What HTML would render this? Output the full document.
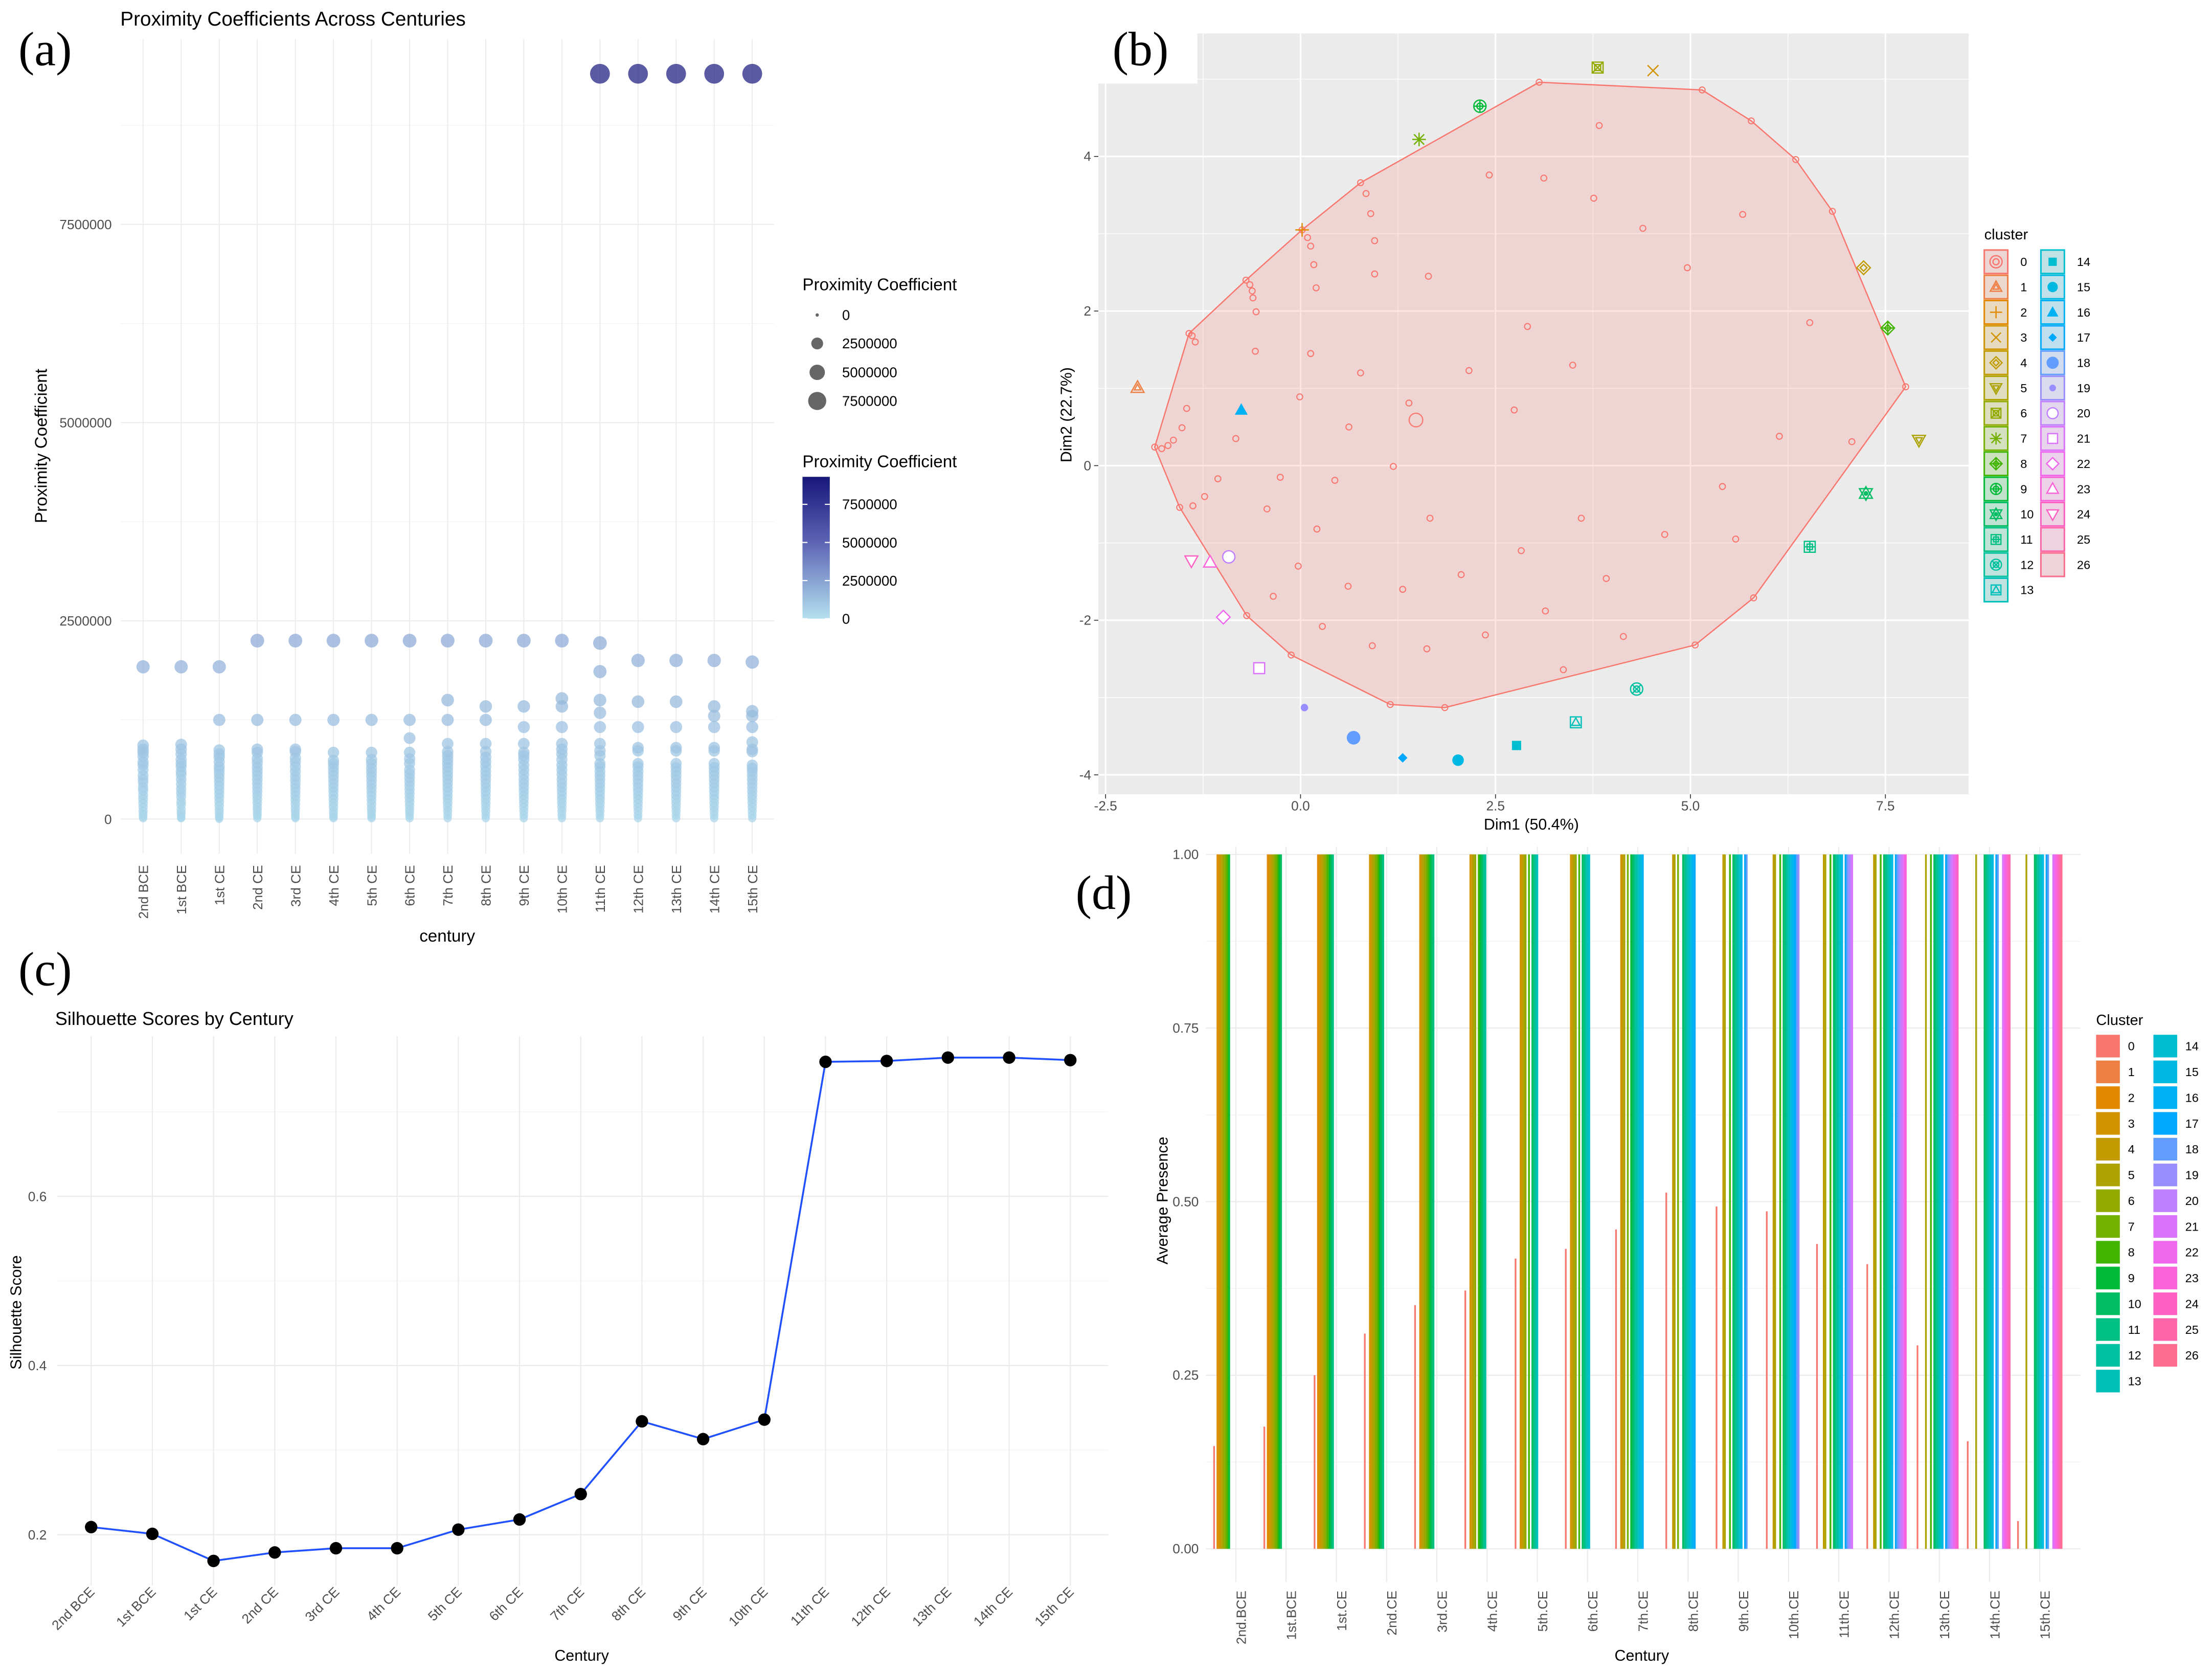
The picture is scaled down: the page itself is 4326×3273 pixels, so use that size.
<!DOCTYPE html>
<html><head><meta charset="utf-8"><title>Cluster analysis figure</title>
<style>
html,body{margin:0;padding:0;background:#fff;}
svg{display:block;font-family:"Liberation Sans",sans-serif;}
.tk{font-size:9.5px;fill:#4d4d4d;}
.lt{font-family:"Liberation Serif",serif;font-size:34px;fill:#000;}
</style></head>
<body>
<svg id="fig" width="4326" height="3273" viewBox="0 0 1562.9 1182.4" preserveAspectRatio="none" xmlns="http://www.w3.org/2000/svg">
<defs>
<linearGradient id="cbar" x1="0" y1="0" x2="0" y2="1">
<stop offset="0" stop-color="#17177a"/><stop offset="0.45" stop-color="#5b62b3"/><stop offset="1" stop-color="#b4e0ef"/>
</linearGradient>
</defs>
<rect x="0" y="0" width="1562.9" height="1182.4" fill="#fff"/>

<g id="pa">
<text class="lt" x="13" y="46">(a)</text>
<text x="85" y="18" font-size="14">Proximity Coefficients Across Centuries</text>
<text transform="translate(33,315) rotate(-90)" text-anchor="middle" font-size="12">Proximity Coefficient</text>
<text x="316" y="665" text-anchor="middle" font-size="12">century</text>
<g id="pa-grid"></g>
<g id="pa-pts"></g>
<g id="pa-ticks"></g>
<text x="567" y="205" font-size="12">Proximity Coefficient</text>
<g id="pa-sleg"></g>
<text x="567" y="330" font-size="12">Proximity Coefficient</text>
<rect x="567" y="336.8" width="19.3" height="100.2" fill="url(#cbar)"/>
<g id="pa-cleg"></g>
</g>

<g id="pb">
<rect x="776" y="23.6" width="615" height="537.4" fill="#ebebeb"/>
<g id="pb-grid"></g>
<g id="pb-hull"></g>
<g id="pb-pts"></g>
<rect x="740" y="0" width="106" height="59" fill="#fff"/>
<text class="lt" x="786" y="46">(b)</text>
<g id="pb-ticks"></g>
<text x="1082" y="586" text-anchor="middle" font-size="11">Dim1 (50.4%)</text>
<text transform="translate(757,293) rotate(-90)" text-anchor="middle" font-size="11">Dim2 (22.7%)</text>
<text x="1402" y="169" font-size="10.5">cluster</text>
<g id="pb-leg"></g>
</g>

<g id="pc">
<text class="lt" x="13" y="696">(c)</text>
<text x="39" y="724" font-size="13">Silhouette Scores by Century</text>
<g id="pc-grid"></g>
<g id="pc-line"></g>
<g id="pc-ticks"></g>
<text transform="translate(15,927) rotate(-90)" text-anchor="middle" font-size="11">Silhouette Score</text>
<text x="411" y="1173" text-anchor="middle" font-size="11">Century</text>
</g>

<g id="pd">
<text class="lt" x="760" y="642">(d)</text>
<g id="pd-grid"></g>
<g id="pd-bars"></g>
<g id="pd-ticks"></g>
<text transform="translate(825,848) rotate(-90)" text-anchor="middle" font-size="11">Average Presence</text>
<text x="1160" y="1173" text-anchor="middle" font-size="11">Century</text>
<text x="1481" y="724" font-size="10.5">Cluster</text>
<g id="pd-leg"></g>
</g>
</svg>

<script>
const aCenturies = ['2nd BCE','1st BCE','1st CE','2nd CE','3rd CE','4th CE','5th CE','6th CE','7th CE','8th CE','9th CE','10th CE','11th CE','12th CE','13th CE','14th CE','15th CE'];
const aValues = [
 [1.92,0.93,0.88,0.84,0.79,0.72,0.68,0.62,0.55,0.5,0.46,0.4,0.36,0.3,0.25,0.2,0.15,0.1,0.06,0.03,0.01],
 [1.92,0.94,0.88,0.82,0.75,0.7,0.66,0.6,0.56,0.5,0.44,0.38,0.33,0.28,0.22,0.18,0.12,0.08,0.05,0.02,0.01],
 [1.92,1.25,0.87,0.82,0.78,0.72,0.66,0.62,0.57,0.52,0.47,0.42,0.37,0.32,0.27,0.22,0.17,0.12,0.08,0.04,0.02,0.0],
 [2.25,1.25,0.88,0.84,0.76,0.71,0.65,0.6,0.55,0.5,0.45,0.4,0.35,0.3,0.25,0.2,0.15,0.11,0.07,0.04,0.01],
 [2.25,1.25,0.88,0.85,0.77,0.72,0.66,0.6,0.54,0.49,0.44,0.39,0.34,0.29,0.24,0.19,0.14,0.1,0.06,0.03,0.01],
 [2.25,1.25,0.84,0.74,0.7,0.65,0.6,0.55,0.5,0.45,0.4,0.35,0.3,0.25,0.2,0.15,0.1,0.06,0.03,0.01],
 [2.25,1.25,0.84,0.75,0.7,0.64,0.59,0.54,0.49,0.44,0.39,0.34,0.29,0.24,0.19,0.14,0.1,0.06,0.03,0.01],
 [2.25,1.25,1.02,0.84,0.76,0.7,0.62,0.57,0.52,0.47,0.42,0.37,0.32,0.27,0.22,0.17,0.12,0.08,0.04,0.01],
 [2.25,1.5,1.25,0.95,0.85,0.8,0.75,0.7,0.65,0.6,0.55,0.5,0.45,0.4,0.35,0.3,0.25,0.2,0.15,0.1,0.05,0.01],
 [2.25,1.42,1.25,0.95,0.85,0.78,0.72,0.66,0.6,0.55,0.5,0.45,0.4,0.35,0.3,0.25,0.2,0.15,0.1,0.05,0.01],
 [2.25,1.42,1.16,0.95,0.84,0.8,0.75,0.68,0.62,0.56,0.5,0.45,0.4,0.35,0.3,0.25,0.2,0.15,0.1,0.05,0.01],
 [2.25,1.52,1.42,1.16,0.95,0.88,0.82,0.75,0.68,0.62,0.56,0.5,0.45,0.4,0.35,0.3,0.25,0.2,0.15,0.1,0.05,0.01],
 [9.4,2.22,1.86,1.5,1.34,1.16,0.95,0.86,0.8,0.7,0.66,0.6,0.55,0.5,0.45,0.4,0.35,0.3,0.25,0.2,0.15,0.1,0.05,0.01],
 [9.4,2.0,1.48,1.16,0.9,0.86,0.7,0.66,0.6,0.55,0.5,0.45,0.4,0.35,0.3,0.25,0.2,0.15,0.1,0.05,0.01],
 [9.4,2.0,1.48,1.16,0.9,0.86,0.7,0.65,0.6,0.55,0.5,0.45,0.4,0.35,0.3,0.25,0.2,0.15,0.1,0.05,0.01],
 [9.4,2.0,1.42,1.3,1.16,0.9,0.86,0.7,0.65,0.6,0.55,0.5,0.45,0.4,0.35,0.3,0.25,0.2,0.15,0.1,0.05,0.01],
 [9.4,1.98,1.36,1.3,1.16,0.97,0.88,0.85,0.68,0.64,0.6,0.55,0.5,0.45,0.4,0.35,0.3,0.25,0.2,0.15,0.1,0.05,0.01]
];
const aYTicks = [0,2.5,5,7.5];
const aYTickLabels = ['0','2500000','5000000','7500000'];
const aYMinor = [1.25,3.75,6.25,8.75];
const aSizeLegend = [0,2.5,5,7.5];
const aSizeLegendLabels = ['0','2500000','5000000','7500000'];
const aColorLegend = [0,2.5,5,7.5];
const aColorLegendLabels = ['0','2500000','5000000','7500000'];

const bXTicks = [-2.5,0,2.5,5,7.5];
const bXTickLabels = ['-2.5','0.0','2.5','5.0','7.5'];
const bYTicks = [-4,-2,0,2,4];
const bYTickLabels = ['-4','-2','0','2','4'];
const bXMinor = [-1.25,1.25,3.75,6.25];
const bYMinor = [-3,-1,1,3,5];
const cluster0Dim1 = [3.06,5.15,5.78,6.35,6.82,7.76,5.81,5.06,1.85,1.15,-0.12,-0.69,-1.55,-1.87,-1.43,-0.70,0.02,
 3.83,2.42,3.12,3.76,0.77,0.84,0.90,0.95,0.09,0.13,0.17,0.20,0.95,1.64,4.39,5.67,4.96,-0.65,-0.62,-0.61,-0.57,-0.58,0.13,-1.39,-1.35,
 2.91,6.53,2.16,3.49,0.77,-0.01,1.39,2.74,-1.46,-1.52,-1.63,-1.70,-1.78,-0.83,0.62,1.19,-1.06,-0.26,0.44,-1.23,-1.38,-0.43,1.66,3.60,
 0.21,5.41,4.67,5.58,2.83,-0.03,2.06,3.92,0.61,1.31,-0.35,3.14,0.28,2.37,4.14,0.92,1.62,3.37,7.07,6.14];
const cluster0Dim2 = [4.96,4.86,4.46,3.96,3.29,1.02,-1.71,-2.32,-3.13,-3.09,-2.45,-1.94,-0.54,0.24,1.71,2.40,3.05,
 4.40,3.76,3.72,3.46,3.66,3.52,3.26,2.91,2.95,2.84,2.60,2.30,2.48,2.45,3.07,3.25,2.56,2.34,2.26,2.17,1.99,1.48,1.45,1.68,1.60,
 1.80,1.85,1.23,1.30,1.20,0.89,0.81,0.72,0.74,0.49,0.33,0.26,0.22,0.35,0.50,-0.01,-0.17,-0.15,-0.19,-0.40,-0.52,-0.56,-0.68,-0.68,
 -0.82,-0.27,-0.89,-0.95,-1.10,-1.30,-1.41,-1.46,-1.56,-1.60,-1.69,-1.88,-2.08,-2.19,-2.21,-2.33,-2.37,-2.64,0.31,0.38];
const cluster0Centroid = [1.48,0.59];
const centroidClusters = [1,2,3,4,5,6,7,8,9,10,11,12,13,14,15,16,17,18,19,20,21,22,23,24];
const centroidDim1 = [-2.09,0.02,4.52,7.22,7.93,3.81,1.52,7.53,2.30,7.25,6.53,4.31,3.53,2.77,2.02,-0.76,1.31,0.68,0.05,-0.92,-0.53,-0.99,-1.16,-1.40];
const centroidDim2 = [1.01,3.05,5.11,2.56,0.33,5.15,4.22,1.78,4.65,-0.36,-1.05,-2.89,-3.32,-3.62,-3.81,0.72,-3.78,-3.52,-3.13,-1.18,-2.62,-1.96,-1.25,-1.23];

const cCenturies = ['2nd BCE','1st BCE','1st CE','2nd CE','3rd CE','4th CE','5th CE','6th CE','7th CE','8th CE','9th CE','10th CE','11th CE','12th CE','13th CE','14th CE','15th CE'];
const cScores = [0.209,0.201,0.169,0.179,0.184,0.184,0.206,0.218,0.248,0.334,0.313,0.336,0.759,0.760,0.764,0.764,0.761];
const cYTicks = [0.2,0.4,0.6];
const cYTickLabels = ['0.2','0.4','0.6'];
const cYMinor = [0.3,0.5,0.7];

const dCenturies = ['2nd.BCE','1st.BCE','1st.CE','2nd.CE','3rd.CE','4th.CE','5th.CE','6th.CE','7th.CE','8th.CE','9th.CE','10th.CE','11th.CE','12th.CE','13th.CE','14th.CE','15th.CE'];
const dCluster0 = [0.148,0.176,0.25,0.31,0.351,0.372,0.418,0.432,0.46,0.513,0.493,0.486,0.439,0.41,0.293,0.155,0.04];
const dFullClusters = [
 [2,3,4,5,6,7,8,9],
 [2,3,4,5,6,7,8,9,10],
 [2,3,4,5,6,7,8,9,10,11],
 [3,4,5,6,7,8,9,10,11],
 [3,4,5,6,7,8,9,10,11],
 [3,4,5,6,8,9,10,11,12],
 [3,4,5,6,8,10,11,12,13],
 [3,4,5,6,8,10,11,12,13,14],
 [3,4,5,7,9,10,11,12,13,14,15,16],
 [4,5,7,10,11,12,13,14,15,16,17],
 [4,5,8,10,11,12,13,14,15,17,18],
 [4,5,8,10,11,12,13,14,15,16,17,18,19],
 [4,5,8,10,11,12,13,14,15,17,18,19,20,21],
 [4,5,8,10,11,12,13,14,15,17,18,19,20,21,22,23],
 [5,8,10,11,12,13,14,15,17,18,19,20,21,22,23,24],
 [5,10,11,12,13,14,15,17,18,21,22,23,24,25],
 [5,10,11,12,13,14,15,17,18,21,22,23,24,25,26]
];
const dFullValues = [1,1,1,1,1,1,1,1,1,1,1,1,1,1,1,1,1];
const dYTicks = [0,0.25,0.5,0.75,1];
const dYTickLabels = ['0.00','0.25','0.50','0.75','1.00'];
const dYMinor = [0.125,0.375,0.625,0.875];
const clusterLabels = ['0','1','2','3','4','5','6','7','8','9','10','11','12','13','14','15','16','17','18','19','20','21','22','23','24','25','26'];

const NS = 'http://www.w3.org/2000/svg';
function mk(tag, attrs, name, parent) {
  const el = document.createElementNS(NS, tag);
  for (const k in attrs) el.setAttribute(k, attrs[k]);
  
  
  parent.appendChild(el);
  return el;
}
function txt(s, attrs, name, parent) { const t = mk('text', attrs, name, parent); t.textContent = s; return t; }
function hcl(h, c, l) {
  const hr = h * Math.PI / 180, U = c * Math.cos(hr), V = c * Math.sin(hr);
  const Y = l > 8 ? Math.pow((l + 16) / 116, 3) : l / 903.3;
  const un = 0.1978398, vn = 0.4683363;
  const u = U / (13 * l) + un, v = V / (13 * l) + vn;
  const X = Y * 9 * u / (4 * v), Z = Y * (12 - 3 * u - 20 * v) / (4 * v);
  const lin = [3.2404542*X - 1.5371385*Y - 0.4985314*Z, -0.9692660*X + 1.8760108*Y + 0.0415560*Z, 0.0556434*X - 0.2040259*Y + 1.0572252*Z];
  return '#' + lin.map(x => { x = x <= 0.0031308 ? 12.92 * x : 1.055 * Math.pow(x, 1/2.4) - 0.055; x = Math.max(0, Math.min(1, x)); return Math.round(x*255).toString(16).padStart(2,'0'); }).join('');
}
const clusterColor = k => hcl(15 + k * 360 / 27, 100, 65);
function lerpColor(stops, t) {
  t = Math.max(0, Math.min(1, t));
  for (let i = 0; i < stops.length - 1; i++) {
    const [t0, c0] = stops[i], [t1, c1] = stops[i+1];
    if (t <= t1) {
      const f = (t - t0) / (t1 - t0);
      const a = [1,3,5].map(j => parseInt(c0.substr(j,2),16)), b = [1,3,5].map(j => parseInt(c1.substr(j,2),16));
      return 'rgb(' + a.map((v, j) => Math.round(v + (b[j]-v)*f)).join(',') + ')';
    }
  }
  return stops[stops.length-1][1];
}

(function(){
  const grid = document.getElementById('pa-grid'), pts = document.getElementById('pa-pts'), tk = document.getElementById('pa-ticks');
  const ax = i => 101.1 + i * 26.9;
  const ay = v => 578.5 - v * 56.0;
  const ar = v => 2.8 + 4.2 * Math.sqrt(Math.max(0, v) / 9.4);
  const lr = v => 1.17 * (1 + 5 * Math.sqrt(Math.max(0, v) / 9.4));
  const acol = v => lerpColor([[0,'#a9d6ea'],[0.5,'#6c78c0'],[1,'#1c1c80']], v / 9.4);
  aYMinor.forEach(v => mk('line', {x1:85.4, x2:547, y1:ay(v), y2:ay(v), stroke:'#f2f2f2', 'stroke-width':0.4}, 'panel-a-minor-gridline', grid));
  aYTicks.forEach((v, i) => {
    mk('line', {x1:85.4, x2:547, y1:ay(v), y2:ay(v), stroke:'#ebebeb', 'stroke-width':0.7}, 'panel-a-major-gridline', grid);
    txt(aYTickLabels[i], {x:79, y:ay(v)+3.4, 'text-anchor':'end', class:'tk'}, 'panel-a-y-tick-label', tk);
  });
  aCenturies.forEach((c, i) => {
    mk('line', {x1:ax(i), x2:ax(i), y1:27.7, y2:603, stroke:'#ebebeb', 'stroke-width':0.7}, 'panel-a-vertical-gridline', grid);
    txt(c, {transform:'translate(' + (ax(i)+3.5) + ',611) rotate(-90)', 'text-anchor':'end', class:'tk'}, 'panel-a-x-tick-label', tk);
    aValues[i].slice().sort((p, q) => p - q).forEach(v => {
      mk('circle', {cx:ax(i), cy:ay(v), r:ar(v), fill:acol(v), 'fill-opacity':0.72}, 'proximity-point', pts);
    });
  });
  const sl = document.getElementById('pa-sleg');
  const sy = [222.5, 242.6, 263, 283.2];
  aSizeLegend.forEach((v, i) => {
    mk('circle', {cx:577.4, cy:sy[i], r:lr(v), fill:'#555', 'fill-opacity':0.9}, 'size-legend-key', sl);
    txt(aSizeLegendLabels[i], {x:595, y:sy[i]+3.5, 'font-size':10}, 'size-legend-label', sl);
  });
  const cl = document.getElementById('pa-cleg');
  const cby = v => 437 - v * 10.77;
  aColorLegend.forEach((v, i) => {
    mk('line', {x1:567, x2:570.5, y1:cby(v), y2:cby(v), stroke:'#fff', 'stroke-width':0.8}, 'colorbar-tick', cl);
    mk('line', {x1:582.8, x2:586.3, y1:cby(v), y2:cby(v), stroke:'#fff', 'stroke-width':0.8}, 'colorbar-tick', cl);
    txt(aColorLegendLabels[i], {x:595, y:cby(v)+3.5, 'font-size':10}, 'color-legend-label', cl);
  });
})();

function shape(k, x, y, s, col, par, name) {
  const g = mk('g', {}, name, par);
  const st = {fill:'none', stroke:col, 'stroke-width':0.9};
  const P = (pp, at) => mk('polygon', Object.assign({points: pp.map(p => (x + p[0]*s) + ',' + (y + p[1]*s)).join(' ')}, at), 'symbol-part', g);
  const C = (r, at) => mk('circle', Object.assign({cx:x, cy:y, r:r*s}, at), 'symbol-part', g);
  const L = (a, b, c, d) => mk('line', {x1:x+a*s, y1:y+b*s, x2:x+c*s, y2:y+d*s, stroke:col, 'stroke-width':0.9}, 'symbol-part', g);
  const tri = [[0,-1],[0.95,0.7],[-0.95,0.7]], dtri = [[0,1],[0.95,-0.7],[-0.95,-0.7]];
  const dia = [[0,-1],[1,0],[0,1],[-1,0]], sq = [[-0.8,-0.8],[0.8,-0.8],[0.8,0.8],[-0.8,0.8]];
  const sc = (pp, f) => pp.map(p => [p[0]*f, p[1]*f]);
  const wf = {fill:'#fff', stroke:col, 'stroke-width':0.9};
  switch (k) {
    case 0: C(1, st); C(0.5, st); break;
    case 1: P(tri, st); P(sc(tri,0.5), st); break;
    case 2: L(-1,0,1,0); L(0,-1,0,1); break;
    case 3: L(-0.8,-0.8,0.8,0.8); L(-0.8,0.8,0.8,-0.8); break;
    case 4: P(dia, st); P(sc(dia,0.5), st); break;
    case 5: P(dtri, st); P(sc(dtri,0.5), st); break;
    case 6: P(sq, st); P(sc(sq,0.55), st); L(-0.8,-0.8,0.8,0.8); L(-0.8,0.8,0.8,-0.8); break;
    case 7: L(-1,0,1,0); L(0,-1,0,1); L(-0.75,-0.75,0.75,0.75); L(-0.75,0.75,0.75,-0.75); break;
    case 8: P(dia, st); P(sc(dia,0.5), st); L(-1,0,1,0); L(0,-1,0,1); break;
    case 9: C(0.9, st); C(0.45, st); L(-0.9,0,0.9,0); L(0,-0.9,0,0.9); break;
    case 10: P(tri, st); P(dtri, st); C(0.35, {fill:col}); break;
    case 11: P(sq, st); P(sc(sq,0.5), st); L(-0.8,0,0.8,0); L(0,-0.8,0,0.8); break;
    case 12: C(0.9, st); C(0.45, st); L(-0.64,-0.64,0.64,0.64); L(-0.64,0.64,0.64,-0.64); break;
    case 13: P(sq, st); P(sc(tri,0.65), st); break;
    case 14: P(sc(sq,0.85), {fill:col}); break;
    case 15: C(0.85, {fill:col}); break;
    case 16: P(tri, {fill:col}); break;
    case 17: P(sc(dia,0.7), {fill:col}); break;
    case 18: C(1.0, {fill:col}); break;
    case 19: C(0.55, {fill:col}); break;
    case 20: C(0.9, wf); break;
    case 21: P(sq, wf); break;
    case 22: P(dia, wf); break;
    case 23: P(tri, wf); break;
    case 24: P(dtri, wf); break;
  }
  return g;
}
(function(){
  const grid = document.getElementById('pb-grid'), hullG = document.getElementById('pb-hull'), pts = document.getElementById('pb-pts'), tk = document.getElementById('pb-ticks');
  const bx = v => 918.9 + v * 55.1;
  const by = v => 328.9 - v * 54.6;
  const L0 = 776, R0 = 1391, T0 = 23.6, B0 = 561;
  bXMinor.forEach(v => mk('line', {x1:bx(v), x2:bx(v), y1:T0, y2:B0, stroke:'#fff', 'stroke-width':0.5}, 'panel-b-minor-gridline', grid));
  bYMinor.forEach(v => mk('line', {x1:L0, x2:R0, y1:by(v), y2:by(v), stroke:'#fff', 'stroke-width':0.5}, 'panel-b-minor-gridline', grid));
  bXTicks.forEach((v, i) => {
    mk('line', {x1:bx(v), x2:bx(v), y1:T0, y2:B0, stroke:'#fff', 'stroke-width':1.1}, 'panel-b-major-gridline', grid);
    mk('line', {x1:bx(v), x2:bx(v), y1:B0, y2:B0+3, stroke:'#333', 'stroke-width':0.6}, 'panel-b-x-tick', tk);
    txt(bXTickLabels[i], {x:bx(v), y:B0+11.5, 'text-anchor':'middle', class:'tk', 'font-size':9}, 'panel-b-x-tick-label', tk);
  });
  bYTicks.forEach((v, i) => {
    mk('line', {x1:L0, x2:R0, y1:by(v), y2:by(v), stroke:'#fff', 'stroke-width':1.1}, 'panel-b-major-gridline', grid);
    mk('line', {x1:L0-3, x2:L0, y1:by(v), y2:by(v), stroke:'#333', 'stroke-width':0.6}, 'panel-b-y-tick', tk);
    txt(bYTickLabels[i], {x:L0-5, y:by(v)+3.2, 'text-anchor':'end', class:'tk', 'font-size':9}, 'panel-b-y-tick-label', tk);
  });
  const P = cluster0Dim1.map((d, i) => [d, cluster0Dim2[i]]).sort((a, b) => a[0] - b[0] || a[1] - b[1]);
  const cross = (o, a, b) => (a[0]-o[0])*(b[1]-o[1]) - (a[1]-o[1])*(b[0]-o[0]);
  const lo = [], up = [];
  P.forEach(p => { while (lo.length >= 2 && cross(lo[lo.length-2], lo[lo.length-1], p) <= 0) lo.pop(); lo.push(p); });
  P.slice().reverse().forEach(p => { while (up.length >= 2 && cross(up[up.length-2], up[up.length-1], p) <= 0) up.pop(); up.push(p); });
  const hull = lo.slice(0, -1).concat(up.slice(0, -1));
  mk('polygon', {points: hull.map(p => bx(p[0]) + ',' + by(p[1])).join(' '), fill:'#F8766D', 'fill-opacity':0.2, stroke:'#F8766D', 'stroke-width':0.9}, 'cluster-0-hull-polygon', hullG);
  const c0 = clusterColor(0);
  cluster0Dim1.forEach((d, i) => mk('circle', {cx:bx(d), cy:by(cluster0Dim2[i]), r:2.1, fill:'none', stroke:c0, 'stroke-width':0.75}, 'cluster-0-point', pts));
  mk('circle', {cx:bx(cluster0Centroid[0]), cy:by(cluster0Centroid[1]), r:4.8, fill:'none', stroke:c0, 'stroke-width':0.8}, 'cluster-0-centroid', pts);
  centroidClusters.forEach((k, i) => shape(k, bx(centroidDim1[i]), by(centroidDim2[i]), 4.8, clusterColor(k), pts, 'cluster-' + k + '-centroid'));
  const lg = document.getElementById('pb-leg');
  clusterLabels.forEach((lab, k) => {
    const col = k < 14 ? 0 : 1, row = k < 14 ? k : k - 14;
    const x0 = col ? 1442 : 1402, yc = 184.9 + row * 17.83;
    const c = clusterColor(k);
    mk('rect', {x:x0, y:yc-8.3, width:16.6, height:16.6, fill:'#ebebeb'}, 'cluster-legend-key-bg', lg);
    mk('rect', {x:x0, y:yc-8.3, width:16.6, height:16.6, fill:c, 'fill-opacity':0.18, stroke:c, 'stroke-width':1.1}, 'cluster-legend-key', lg);
    shape(k, x0 + 8.3, yc, 4.3, c, lg, 'cluster-legend-symbol');
    txt(lab, {x:x0 + 25.5, y:yc + 3, 'font-size':8.5}, 'cluster-legend-label', lg);
  });
})();

(function(){
  const grid = document.getElementById('pc-grid'), ln = document.getElementById('pc-line'), tk = document.getElementById('pc-ticks');
  const cx = i => 64.4 + i * 43.24;
  const cy = v => 1084 - (v - 0.2) * 597.5;
  cYMinor.forEach(v => mk('line', {x1:40.5, x2:783, y1:cy(v), y2:cy(v), stroke:'#f2f2f2', 'stroke-width':0.5}, 'panel-c-minor-gridline', grid));
  cYTicks.forEach((v, i) => {
    mk('line', {x1:40.5, x2:783, y1:cy(v), y2:cy(v), stroke:'#ebebeb', 'stroke-width':0.8}, 'panel-c-major-gridline', grid);
    txt(cYTickLabels[i], {x:33, y:cy(v)+3.4, 'text-anchor':'end', class:'tk'}, 'panel-c-y-tick-label', tk);
  });
  cCenturies.forEach((c, i) => {
    mk('line', {x1:cx(i), x2:cx(i), y1:732, y2:1120, stroke:'#ebebeb', 'stroke-width':0.8}, 'panel-c-vertical-gridline', grid);
    txt(c, {transform:'translate(' + (cx(i)+3) + ',1125) rotate(-45)', 'text-anchor':'end', class:'tk'}, 'panel-c-x-tick-label', tk);
  });
  mk('polyline', {points: cScores.map((v, i) => cx(i) + ',' + cy(v)).join(' '), fill:'none', stroke:'#2050ff', 'stroke-width':1.3}, 'silhouette-line', ln);
  cScores.forEach((v, i) => mk('circle', {cx:cx(i), cy:cy(v), r:4.4, fill:'#000'}, 'silhouette-point', ln));
})();

(function(){
  const grid = document.getElementById('pd-grid'), bars = document.getElementById('pd-bars'), tk = document.getElementById('pd-ticks');
  const dx = i => 873.2 + i * 35.5;
  const slot = 35.5 * 0.9 / 27;
  const dy = v => 1094 - v * 490.5;
  dYMinor.forEach(v => mk('line', {x1:852, x2:1470, y1:dy(v), y2:dy(v), stroke:'#f2f2f2', 'stroke-width':0.5}, 'panel-d-minor-gridline', grid));
  dYTicks.forEach((v, i) => {
    mk('line', {x1:852, x2:1470, y1:dy(v), y2:dy(v), stroke:'#ebebeb', 'stroke-width':0.8}, 'panel-d-major-gridline', grid);
    txt(dYTickLabels[i], {x:847, y:dy(v)+3.2, 'text-anchor':'end', class:'tk', 'font-size':9}, 'panel-d-y-tick-label', tk);
  });
  dCenturies.forEach((c, i) => {
    mk('line', {x1:dx(i), x2:dx(i), y1:598, y2:1117.5, stroke:'#ebebeb', 'stroke-width':0.8}, 'panel-d-vertical-gridline', grid);
    txt(c, {transform:'translate(' + (dx(i)+7) + ',1123.5) rotate(-90)', 'text-anchor':'end', class:'tk', 'font-size':9}, 'panel-d-x-tick-label', tk);
    const left = dx(i) - 35.5 * 0.45;
    mk('rect', {x:left, y:dy(dCluster0[i]), width:slot, height:dy(0) - dy(dCluster0[i]), fill:clusterColor(0)}, 'cluster-0-bar', bars);
    dFullClusters[i].forEach(k => {
      mk('rect', {x:left + k * slot, y:dy(dFullValues[i]), width:slot + 0.05, height:dy(0) - dy(dFullValues[i]), fill:clusterColor(k)}, 'cluster-' + k + '-bar', bars);
    });
  });
  const lg = document.getElementById('pd-leg');
  clusterLabels.forEach((lab, k) => {
    const col = k < 14 ? 0 : 1, row = k < 14 ? k : k - 14;
    const x0 = col ? 1521.5 : 1481, yt = 730.9 + row * 18.2;
    mk('rect', {x:x0, y:yt, width:16.8, height:16, fill:clusterColor(k)}, 'panel-d-legend-key', lg);
    txt(lab, {x:x0 + 22.5, y:yt + 11, 'font-size':8.5}, 'panel-d-legend-label', lg);
  });
})();
</script>
</body></html>
